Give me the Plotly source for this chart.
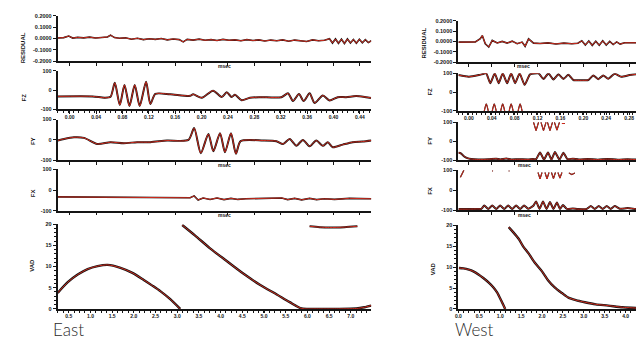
import plotly.graph_objects as go

W, H = 644, 339

# ---------------- DATA (x in samples) ----------------
# East panel
EAST_RES_X = [0, 6, 11, 15, 20, 26, 32, 38, 44, 50, 53, 57, 62, 68, 74, 80, 86, 92, 98, 104, 110, 116, 122, 126, 130,
              136, 142, 148, 154, 160, 166, 172, 178, 184, 190, 196, 202, 208, 214, 220, 226, 232, 238, 244, 250, 256,
              262, 268, 273, 276, 279, 282, 285, 288, 291, 294, 297, 300, 303, 306, 309, 312, 315]
EAST_RES_Y = [0.005, 0.008, 0.022, 0.004, 0.010, 0.006, 0.012, 0.004, 0.009, 0.014, 0.030, 0.008, 0.002, 0.006,
              -0.006, 0.002, -0.010, -0.002, -0.008, 0.000, -0.012, -0.004, -0.010, -0.030, -0.008, -0.014, -0.006,
              -0.016, -0.010, -0.018, -0.008, -0.016, -0.012, -0.020, -0.010, -0.018, -0.012, -0.022, -0.014, -0.020,
              -0.012, -0.024, -0.014, -0.018, -0.026, -0.012, -0.020, -0.016, -0.002, -0.040, -0.004, -0.042, -0.006,
              -0.044, -0.004, -0.040, -0.008, -0.042, -0.006, -0.038, -0.010, -0.036, -0.020]

EAST_FZ_X = [0, 35, 47, 53, 57.3, 62.3, 67, 72, 77.3, 82.3, 88.7, 93, 98, 113, 133, 136, 144.7, 156, 164.7, 169.7,
             174.7, 178, 184.7, 193, 203, 224.7, 231.3, 236.3, 242.3, 247, 253, 258, 266.3, 273, 281.3, 289.7,
             299.7, 309.7, 314.7]
EAST_FZ_Y = [-33, -33, -40, -35, 38, -78, 27, -83, 27, -83, 43, -73, -20, -22, -30, -22, -40, -3, -36, -12,
             -36, -24, -53, -40, -37, -37, -17, -57, -20, -57, -17, -67, -28, -54, -37, -37, -31, -37, -41]

EAST_FY_X = [0, 6.3, 16.3, 26.3, 39.7, 53, 66.3, 79.7, 93, 109.7, 131.3, 137, 143.7, 151.3, 156.3, 163, 168, 174,
             179, 183.7, 206.3, 219.7, 226.3, 233, 239.7, 246.3, 253, 259.7, 266.3, 271.3, 276.3, 286.3, 296.3,
             306.3, 315]
EAST_FY_Y = [-3, 5, 13, 10, -20, -11, -16, -11, -11, -3, 0, 58, -65, 29, -55, 33, -60, 33, -68, -6, -3, -6, -20,
             5, -28, 0, -31, -3, -29, -11, -36, -23, -11, -8, -3]

EAST_FX_X = [0, 73, 133, 137, 141, 146, 153, 160, 167, 174, 181, 189, 213, 225, 231, 238, 245, 253, 260, 268,
             278, 293, 315]
EAST_FX_Y = [-33, -35, -37, -28, -48, -38, -45, -38, -46, -40, -45, -42, -40, -38, -46, -40, -47, -40, -46, -42,
             -45, -40, -42]

EAST_VAD1_X = [0, 10, 20, 30, 40, 50, 63, 75, 86, 95, 103, 113, 123]
EAST_VAD1_Y = [3.8, 6.3, 8.1, 9.4, 10.1, 10.4, 9.7, 8.5, 6.9, 5.5, 4.2, 2.3, 0.0]
EAST_VAD2_X = [125, 138, 153, 168, 186, 203, 220, 233, 245, 260, 280, 300, 308, 315]
EAST_VAD2_Y = [19.8, 17.3, 14.3, 11.6, 8.4, 5.7, 3.4, 1.6, 0.1, 0.0, 0.0, 0.1, 0.4, 0.8]
EAST_VAD3_X = [253, 263, 273, 288, 301]
EAST_VAD3_Y = [19.5, 19.3, 19.2, 19.3, 19.5]

# West panel
WEST_RES_X = [0, 9, 17, 22, 24, 27, 30.5, 34, 39, 44, 49, 54, 59, 64, 67, 70.5, 75.5, 82, 90, 98, 106, 114, 120,
              124, 127.5, 131, 134.5, 138, 141.5, 145, 148.5, 152, 155.5, 159, 162.5, 167, 175, 185, 194.5]
WEST_RES_Y = [-0.007, -0.004, -0.005, 0.026, 0.057, -0.022, -0.054, 0.010, -0.015, 0.000, -0.016, 0.003, -0.022,
              -0.006, -0.047, 0.025, -0.016, -0.020, -0.014, -0.024, -0.016, -0.022, -0.018, 0.006, -0.035, 0.004,
              -0.038, 0.002, -0.036, 0.006, -0.034, 0.000, -0.030, -0.004, -0.026, -0.013, -0.012, -0.014, -0.013]

WEST_FZ_X = [0, 10.5, 20.5, 25.5, 28, 32, 36.5, 40.5, 44.5, 49, 53, 57, 61.5, 66.5, 72, 80.5, 85.5, 90.5, 95.5,
             100.5, 105.5, 110.5, 115.5, 123.5, 130.5, 135.5, 140.5, 145.5, 150.5, 157, 163.5, 172, 180.5, 187,
             194.5]
WEST_FZ_Y = [90, 81, 90, 97, 99, 47, 99, 47, 99, 47, 99, 47, 99, 38, 94, 99, 69, 99, 66, 94, 69, 92, 64, 62, 64,
             88, 68, 88, 70, 97, 81, 90, 94, 81, 81]
WEST_FZ_WRAP_X = [26, 28, 30, None, 34, 36, 38, None, 42.5, 44.5, 46.5, None, 51, 53, 55, None, 60, 62, 64]
WEST_FZ_WRAP_Y = [-100, -63, -100, None, -100, -63, -100, None, -100, -63, -100, None, -100, -63, -100, None,
                  -100, -63, -100]

WEST_FY_X = [0, 2.5, 5.5, 9, 13, 20, 30, 38, 42, 48, 53, 60, 70, 75, 78, 82, 86, 90, 93.5, 97, 101.5, 105.5, 109.5,
             115, 121, 130, 140, 150, 160, 170, 180, 194.5]
WEST_FY_Y = [-62, -65, -80, -90, -95, -97, -96, -93, -97, -92, -97, -96, -97, -95, -96, -60, -98, -60, -98, -58,
             -98, -62, -95, -93, -97, -95, -98, -95, -98, -96, -98, -99]
WEST_FY_WRAP_X = [75.5, 78, 80.5, None, 83, 85.5, 88, None, 89.5, 92, 94.5, None, 96.5, 99, 101.5, None, 104, 107]
WEST_FY_WRAP_Y = [98, 55, 98, None, 98, 55, 98, None, 98, 55, 98, None, 98, 57, 98, None, 92, 92]

WEST_FX_X = [0, 10, 20, 23, 26, 30, 34, 38, 42, 46, 50, 54, 58, 62, 66, 70, 75, 78, 81.5, 85, 88.5, 92, 95.5, 99,
             102, 105, 109, 115, 120, 129, 133, 137, 141, 145, 149, 153, 157, 162, 170, 180, 194.5]
WEST_FX_Y = [-95, -95, -94, -94, -77, -94, -77, -94, -77, -94, -77, -94, -77, -94, -77, -93, -80, -57, -94, -57,
             -94, -60, -94, -62, -94, -75, -94, -92, -95, -94, -80, -94, -80, -94, -80, -94, -80, -93, -90, -95, -95]
WEST_FX_WRAP_X = [2, 5.5, None, 34, 34.8, None, 50.5, 51.3, None, 80, 82, 84, None, 87, 89, 91, None, 93.5, 95.5,
                  97.5, None, 100, 102, 104, None, 111, 114, 117]
WEST_FX_WRAP_Y = [64, 100, None, 96, 96, None, 96, 96, None, 88, 56, 88, None, 88, 56, 88, None, 88, 58, 88, None,
                  88, 60, 88, None, 86, 78, 86]

WEST_VAD1_X = [0.5, 5, 10.5, 15, 20.5, 25, 30.5, 35, 39, 43, 47]
WEST_VAD1_Y = [9.8, 9.7, 9.4, 9.0, 8.2, 7.4, 6.3, 5.2, 3.9, 2.0, 0.0]
WEST_VAD2_X = [50.5, 55, 60.5, 65, 70.5, 77, 84, 90, 97, 104, 110.5, 118, 127, 138, 150.5, 165, 184, 194.5]
WEST_VAD2_Y = [19.6, 18.4, 16.8, 15.0, 13.3, 11.0, 9.0, 6.9, 5.1, 3.8, 2.7, 2.1, 1.6, 1.1, 0.8, 0.4, 0.15, 0.05]

# Tick values / labels
RES_TICKS = [-0.2, -0.1, 0.0, 0.1, 0.2]
RES_LABELS = ["-0.2000", "-0.1000", "0.0000", "0.1000", "0.2000"]
F_TICKS = [-100, 0, 100]
F_LABELS = ["-100", "0", "100"]
VAD_TICKS = [0, 5, 10, 15, 20]
VAD_LABELS = ["0", "5", "10", "15", "20"]

EAST_XTICKS = [12, 38.5, 65, 91.5, 118, 144.5, 171, 197.5, 224, 250.5, 277, 303.5]
EAST_XLABELS = ["0.00", "0.04", "0.08", "0.12", "0.16", "0.20", "0.24", "0.28", "0.32", "0.36", "0.40", "0.44"]
EAST_VAD_XTICKS = [11, 32.8, 54.6, 76.4, 98.2, 120, 141.8, 163.6, 185.4, 207.2, 229, 250.8, 272.6, 294.4]
EAST_VAD_XLABELS = ["0.5", "1.0", "1.5", "2.0", "2.5", "3.0", "3.5", "4.0", "4.5", "5.0", "5.5", "6.0", "6.5", "7.0"]
WEST_XTICKS = [10.5, 33.5, 56.5, 79.5, 102.5, 125.5, 148.5, 171.5, 194.5]
WEST_XLABELS = ["0.00", "0.04", "0.08", "0.12", "0.16", "0.20", "0.24", "0.28", ""]
WEST_VAD_XTICKS = [0, 21, 42, 63, 84, 105, 126, 147, 168, 189]
WEST_VAD_XLABELS = ["0.0", "0.5", "1.0", "1.5", "2.0", "2.5", "3.0", "3.5", "4.0", ""]

# ---------------- FIGURE ----------------
RED = "#cf2a1c"
BLK = "#151515"
FONT = "Liberation Sans"

fig = go.Figure()


def ax_names(i):
    return ("x" if i == 1 else f"x{i}", "y" if i == 1 else f"y{i}",
            "xaxis" if i == 1 else f"xaxis{i}", "yaxis" if i == 1 else f"yaxis{i}")


def add_axes(i, xdom_px, ydom_px, xrange, yrange, yt, ytl, xt, xtl, show_xlabels, xminor=None, yminor=None):
    xr, yr, xa, ya = ax_names(i)
    xaxis = dict(domain=[xdom_px[0] / W, xdom_px[1] / W], range=xrange, anchor=yr,
                 showline=True, linecolor=BLK, linewidth=2, showgrid=False, zeroline=False,
                 ticks="outside", ticklen=2.5, tickwidth=1.2, tickcolor=BLK,
                 tickmode="array", tickvals=xt, ticktext=xtl, showticklabels=show_xlabels,
                 ticklabelstandoff=-1,
                 tickangle=0, tickfont=dict(size=5, color=BLK, family=FONT, weight="bold"), fixedrange=True)
    if xminor:
        xaxis["minor"] = dict(ticks="outside", ticklen=2, tickcolor=BLK, tickwidth=0.8, tickmode="linear",
                              tick0=0, dtick=xminor, showgrid=False)
    yaxis = dict(domain=[1 - ydom_px[1] / H, 1 - ydom_px[0] / H], range=yrange, anchor=xr,
                 showline=True, linecolor=BLK, linewidth=2, showgrid=False, zeroline=False,
                 ticks="outside", ticklen=3, tickwidth=1.2, tickcolor=BLK,
                 tickmode="array", tickvals=yt, ticktext=ytl,
                 tickfont=dict(size=5.5, color=BLK, family=FONT, weight="bold"), fixedrange=True)
    if yminor:
        yaxis["minor"] = dict(ticks="outside", ticklen=2, tickcolor=BLK, tickwidth=0.8, tickmode="linear",
                              tick0=0, dtick=yminor, showgrid=False)
    fig.update_layout({xa: xaxis, ya: yaxis})


def add_line(i, x, y, shape="spline", bw=2.0, rw=1.0, smooth=0.7):
    xr, yr, _, _ = ax_names(i)
    fig.add_trace(go.Scatter(x=x, y=y, mode="lines", xaxis=xr, yaxis=yr, showlegend=False, hoverinfo="skip",
                             line=dict(color=BLK, width=bw, shape=shape, smoothing=smooth)))
    fig.add_trace(go.Scatter(x=x, y=y, mode="lines", xaxis=xr, yaxis=yr, showlegend=False, hoverinfo="skip",
                             line=dict(color=RED, width=rw, shape=shape, smoothing=smooth)))


EX = (47, 362)
WX = (449.5, 644)
ERANGE = [0, 315]
WRANGE = [0, 194.5]

# East
add_axes(1, EX, (5, 51), ERANGE, [-0.2, 0.2], RES_TICKS, RES_LABELS, EAST_XTICKS, EAST_XLABELS, False)
add_axes(2, EX, (61, 100), ERANGE, [-100, 100], F_TICKS, F_LABELS, EAST_XTICKS, EAST_XLABELS, True, xminor=5.3)
add_axes(3, EX, (110.5, 152), ERANGE, [-100, 100], F_TICKS, F_LABELS, EAST_XTICKS, EAST_XLABELS, False)
add_axes(4, EX, (161, 203.5), ERANGE, [-100, 100], F_TICKS, F_LABELS, EAST_XTICKS, EAST_XLABELS, False)
add_axes(5, EX, (217, 303.3), ERANGE, [0, 20], VAD_TICKS, VAD_LABELS, EAST_VAD_XTICKS, EAST_VAD_XLABELS, True,
         xminor=5.45, yminor=1)
# West
add_axes(6, WX, (10, 52), WRANGE, [-0.2, 0.2], RES_TICKS, RES_LABELS, WEST_XTICKS, WEST_XLABELS, False)
add_axes(7, WX, (63.3, 101.7), WRANGE, [-100, 100], F_TICKS, F_LABELS, WEST_XTICKS, WEST_XLABELS, True, xminor=4.6)
add_axes(8, WX, (113, 151.7), WRANGE, [-100, 100], F_TICKS, F_LABELS, WEST_XTICKS, WEST_XLABELS, False)
add_axes(9, WX, (162, 202.7), WRANGE, [-100, 100], F_TICKS, F_LABELS, WEST_XTICKS, WEST_XLABELS, False)
add_axes(10, WX, (218.3, 303.3), WRANGE, [0, 20], VAD_TICKS, VAD_LABELS, WEST_VAD_XTICKS, WEST_VAD_XLABELS, True,
         xminor=5.25, yminor=1)

add_line(1, EAST_RES_X, EAST_RES_Y, shape="linear", bw=1.6, rw=1.0)
add_line(2, EAST_FZ_X, EAST_FZ_Y)
add_line(3, EAST_FY_X, EAST_FY_Y)
add_line(4, EAST_FX_X, EAST_FX_Y, shape="linear", bw=1.6)
add_line(5, EAST_VAD1_X, EAST_VAD1_Y, bw=2.4)
add_line(5, EAST_VAD2_X, EAST_VAD2_Y, bw=2.4)
add_line(5, EAST_VAD3_X, EAST_VAD3_Y, bw=2.0)

add_line(6, WEST_RES_X, WEST_RES_Y, shape="linear", bw=1.6, rw=1.0)
add_line(7, WEST_FZ_X, WEST_FZ_Y, smooth=0.5)
add_line(7, WEST_FZ_WRAP_X, WEST_FZ_WRAP_Y, bw=1.2, rw=1.0, smooth=0.6)
add_line(8, WEST_FY_X, WEST_FY_Y, smooth=0.5)
add_line(8, WEST_FY_WRAP_X, WEST_FY_WRAP_Y, shape="linear", bw=1.2, rw=1.0)
add_line(9, WEST_FX_X, WEST_FX_Y, smooth=0.5)
add_line(9, WEST_FX_WRAP_X, WEST_FX_WRAP_Y, shape="linear", bw=1.2, rw=1.0)
add_line(10, WEST_VAD1_X, WEST_VAD1_Y, bw=2.4)
add_line(10, WEST_VAD2_X, WEST_VAD2_Y, bw=2.4)

# Axis titles and labels
ann = []


def label(text, xpx, ypx, size=6, angle=0, weight="bold", family=FONT, color=BLK, xanchor="center",
          yanchor="middle"):
    ann.append(dict(text=text, x=xpx / W, y=1 - ypx / H, xref="paper", yref="paper", showarrow=False,
                    textangle=angle, xanchor=xanchor, yanchor=yanchor, borderpad=0,
                    font=dict(size=size, color=color, family=family, weight=weight)))


for t, xp, yp in [("RESIDUAL", 12, 37), ("FZ", 14, 88), ("FY", 21.5, 132), ("FX", 21.5, 185), ("VAD", 21.5, 259),
                  ("RESIDUAL", 415, 33), ("FZ", 421, 82), ("FY", 421, 132), ("FX", 421, 183), ("VAD", 424, 263)]:
    label(t, xp, yp, size=6, angle=-90)

for xp, yp in [(215, 56), (214, 157), (215, 208), (515, 56), (516, 157), (516, 208)]:
    label("msec", xp, yp, size=5)

label("East", 41, 312.5, size=17, weight=300, family="Lato", color="#2a2a2a", xanchor="left", yanchor="top")
label("West", 445, 313, size=17, weight=300, family="Lato", color="#2a2a2a", xanchor="left", yanchor="top")

fig.update_layout(width=W, height=H, margin=dict(l=0, r=0, t=0, b=0), paper_bgcolor="white",
                  plot_bgcolor="white", annotations=ann, showlegend=False)

fig.write_html("out.html", config={"displayModeBar": False})
